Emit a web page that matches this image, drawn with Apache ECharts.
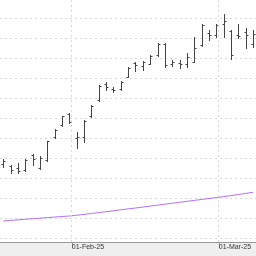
<!DOCTYPE html>
<html><head><meta charset="utf-8">
<script src="https://cdn.jsdelivr.net/npm/echarts@6/dist/echarts.min.js"></script>
<style>html,body{margin:0;padding:0;background:#fff}#c{width:256px;height:256px}</style>
</head><body><div id="c"></div>
<script>
const dates = ['2025-01-20','2025-01-21','2025-01-22','2025-01-23','2025-01-24','2025-01-27','2025-01-28','2025-01-29','2025-01-30','2025-01-31',
  '2025-02-03','2025-02-04','2025-02-05','2025-02-06','2025-02-07','2025-02-10','2025-02-11','2025-02-12','2025-02-13','2025-02-14',
  '2025-02-17','2025-02-18','2025-02-19','2025-02-20','2025-02-21','2025-02-24','2025-02-25','2025-02-26','2025-02-27','2025-02-28',
  '2025-03-03','2025-03-04','2025-03-05','2025-03-06','2025-03-07'];
const opens  = [113.5,113.0,112.5,112.0,115.75,112.5,114.5,120.25,123.25,126.1,120.0,120.25,125.5,129.5,133.5,132.25,132.25,135.25,138.75,138.0,138.5,140.75,143.5,138.5,138.75,138.5,139.1,143.25,146.25,145.75,148.5,146.75,145.75,146.5,143.5];
const highs  = [114.75,113.25,113.75,114.75,116.0,115.5,119.25,122.25,125.5,126.25,121.5,124.5,128.25,133.25,134.0,132.75,134.25,137.75,139.0,139.25,140.75,143.75,143.75,139.5,139.5,141.25,145.25,148.5,147.0,148.5,151.0,147.0,148.5,147.5,147.0];
const lows   = [112.75,111.25,111.25,111.75,113.25,112.25,114.25,120.0,123.0,123.75,117.5,119.0,125.25,129.25,132.0,131.5,132.0,135.25,136.75,137.0,138.5,140.5,137.75,138.0,137.5,137.75,139.0,143.0,144.5,145.25,145.25,139.75,145.0,142.5,142.75];
const closes = [114.25,112.0,111.75,114.5,114.75,115.0,119.25,122.0,125.5,124.1,120.25,124.25,128.0,133.1,132.75,132.1,134.1,137.6,138.25,138.9,140.5,143.5,138.25,139.0,138.6,140.25,142.6,148.25,145.75,148.25,149.25,140.75,145.4,145.75,146.0];
const maValues = [99.25,99.39,99.53,99.68,99.80,99.95,100.10,100.23,100.38,100.50,100.68,100.90,101.13,101.35,101.58,101.80,102.05,102.28,102.50,102.73,102.98,103.20,103.45,103.68,103.93,104.15,104.40,104.63,104.88,105.10,105.35,105.60,105.88,106.15,106.43];
const monthStarts = ['2025-02-01','2025-03-01'];
const monthLabels = ['01-Feb-25','01-Mar-25'];

function dayNum(s){ return Date.UTC(+s.slice(0,4), +s.slice(5,7)-1, +s.slice(8,10)) / 86400000; }
const tickPos = monthStarts.map(function (m) {
  const d = dayNum(m); let a = -1;
  for (let i = 0; i < dates.length; i++) { if (dayNum(dates[i]) < d) a = i; }
  const da = dayNum(dates[a]), db = dayNum(dates[a + 1]);
  return a + (d - da) / (db - da);
});
const ohlc = dates.map(function (d, i) { return [i, opens[i], highs[i], lows[i], closes[i]]; });
const ma = dates.map(function (d, i) { return [i, maValues[i]]; });

const chart = echarts.init(document.getElementById('c'), null, {renderer: 'canvas'});
const barColor = '#444';
const gridLineStyle = {color: '#d8d8d8', type: [2, 3], width: 1};
chart.setOption({
  animation: false,
  backgroundColor: '#efefef',
  grid: {left: 0, right: 0, top: 0, bottom: 14, show: true, backgroundColor: '#ffffff', borderWidth: 0},
  xAxis: {
    type: 'value', min: -0.43, max: 34.4,
    axisLine: {show: true, lineStyle: {color: '#9a9a9a', width: 1}},
    axisTick: {show: true, customValues: tickPos, length: 6, lineStyle: {color: '#9a9a9a'}},
    axisLabel: {show: true, customValues: tickPos, align: 'left', margin: 2, fontSize: 7,
      fontFamily: 'Liberation Sans', color: '#333',
      formatter: function (v) {
        for (let k = 0; k < tickPos.length; k++) { if (Math.abs(tickPos[k] - v) < 0.01) return monthLabels[k]; }
        return '';
      }},
    splitLine: {show: false}
  },
  yAxis: {
    type: 'value', min: 94, max: 154.5, minInterval: 5, maxInterval: 5, splitNumber: 12,
    axisLine: {show: false}, axisTick: {show: false}, axisLabel: {show: false},
    splitLine: {show: true, showMinLine: false, showMaxLine: false, lineStyle: gridLineStyle}
  },
  series: [
    {
      type: 'line', data: ma, showSymbol: false, symbol: 'none',
      lineStyle: {color: '#b070ff', width: 1}, z: 2,
      markLine: {
        silent: true, symbol: ['none', 'none'], label: {show: false},
        lineStyle: gridLineStyle, emphasis: {disabled: true},
        data: tickPos.map(function (p) { return {xAxis: p}; })
      }
    },
    {
      type: 'custom', data: ohlc, encode: {x: 0, y: [1, 2, 3, 4]}, z: 3,
      renderItem: function (params, api) {
        const i = api.value(0);
        const o = api.coord([i, api.value(1)]);
        const h = api.coord([i, api.value(2)]);
        const l = api.coord([i, api.value(3)]);
        const c = api.coord([i, api.value(4)]);
        const x = Math.round(h[0]) + 0.5;
        const w = 2;
        const sy = function (v) { return Math.round(v) + 0.5; };
        const st = {stroke: barColor, lineWidth: 1};
        return {type: 'group', children: [
          {type: 'line', shape: {x1: x, y1: Math.round(h[1]), x2: x, y2: Math.round(l[1]) + 1}, style: st},
          {type: 'line', shape: {x1: x - w, y1: sy(o[1]), x2: x, y2: sy(o[1])}, style: st},
          {type: 'line', shape: {x1: x, y1: sy(c[1]), x2: x + w, y2: sy(c[1])}, style: st}
        ]};
      }
    }
  ]
});
</script></body></html>
